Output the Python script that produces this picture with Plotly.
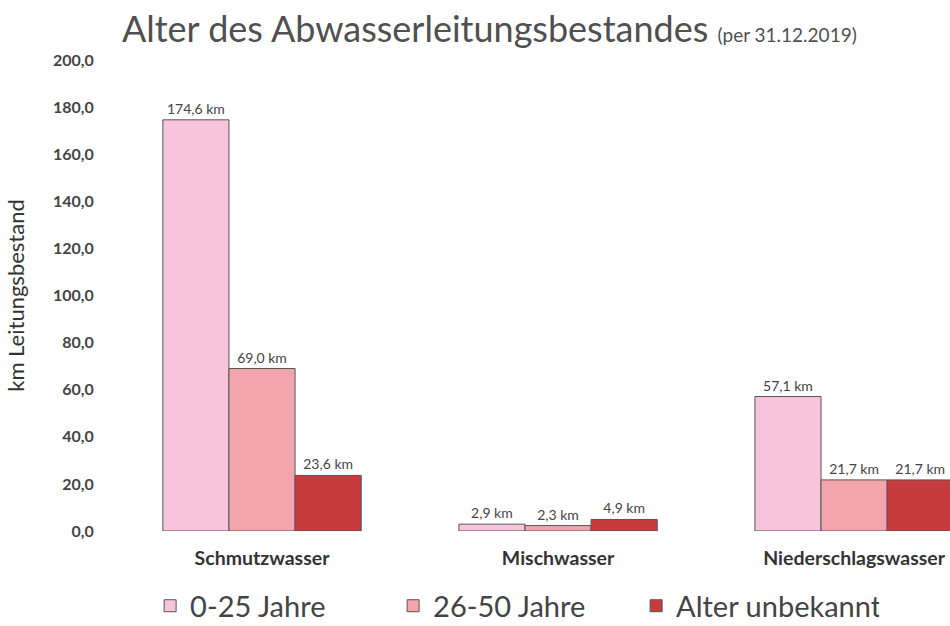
import plotly.graph_objects as go

categories = ["Schmutzwasser", "Mischwasser", "Niederschlagswasser"]
series_names = ["0-25 Jahre", "26-50 Jahre", "Alter unbekannt"]
vals_0_25 = [174.6, 2.9, 57.1]
vals_26_50 = [69.0, 2.3, 21.7]
vals_unknown = [23.6, 4.9, 21.7]
y_ticks = [0, 20, 40, 60, 80, 100, 120, 140, 160, 180, 200]

colors = ["#f7c4dc", "#f4a4ad", "#c73a3d"]
series = [vals_0_25, vals_26_50, vals_unknown]

FONT = "Lato, 'Open Sans', sans-serif"

fig = go.Figure()
for name, vals, col in zip(series_names, series, colors):
    fig.add_trace(go.Bar(
        x=categories, y=vals, name=name,
        marker=dict(color=col, line=dict(color="#555555", width=1)),
        text=[f"{v:.1f}".replace(".", ",") + " km" for v in vals],
        textposition="outside",
        textfont=dict(family=FONT, size=14, color="#444444"),
        cliponaxis=False,
    ))

fig.update_layout(
    width=950, height=626,
    paper_bgcolor="white", plot_bgcolor="white",
    barmode="group", bargap=0.33, bargroupgap=0,
    separators=",.",
    margin=dict(l=114, r=0, t=60, b=95, autoexpand=False),
    showlegend=True,
    legend=dict(
        orientation="h", x=0.0432, xanchor="left", y=-0.159, yanchor="middle",
        font=dict(family=FONT, size=29, color="#444444"),
        entrywidth=198, traceorder="normal",
    ),
    annotations=[
        dict(text="Alter des Abwasserleitungsbestandes <span style='font-size:19px'>(per 31.12.2019)</span>",
             xref="paper", yref="paper", x=(120 - 114) / 836, y=1 + 32 / 471,
             xanchor="left", yanchor="middle", showarrow=False,
             font=dict(family=FONT, size=36, color="#505050")),
    ],
)

fig.update_yaxes(
    range=[0, 200], tickvals=y_ticks, tickformat=".1f",
    showgrid=False, zeroline=False, showline=False,
    ticks="outside", ticklen=16, tickcolor="rgba(0,0,0,0)",
    tickfont=dict(family=FONT, size=16, color="#444444", weight="bold"),
    title=dict(text="km Leitungsbestand", standoff=22,
               font=dict(family=FONT, size=22, color="#333333")),
)
fig.update_xaxes(
    range=[-0.5, 2.324], showgrid=False, zeroline=False, showline=False,
    ticks="outside", ticklen=10, tickcolor="rgba(0,0,0,0)",
    tickfont=dict(family=FONT, size=19.5, color="#333333", weight="bold"),
)

fig.write_html("out.html", config={"displayModeBar": False},
               post_script="document.body.style.margin='0';")
